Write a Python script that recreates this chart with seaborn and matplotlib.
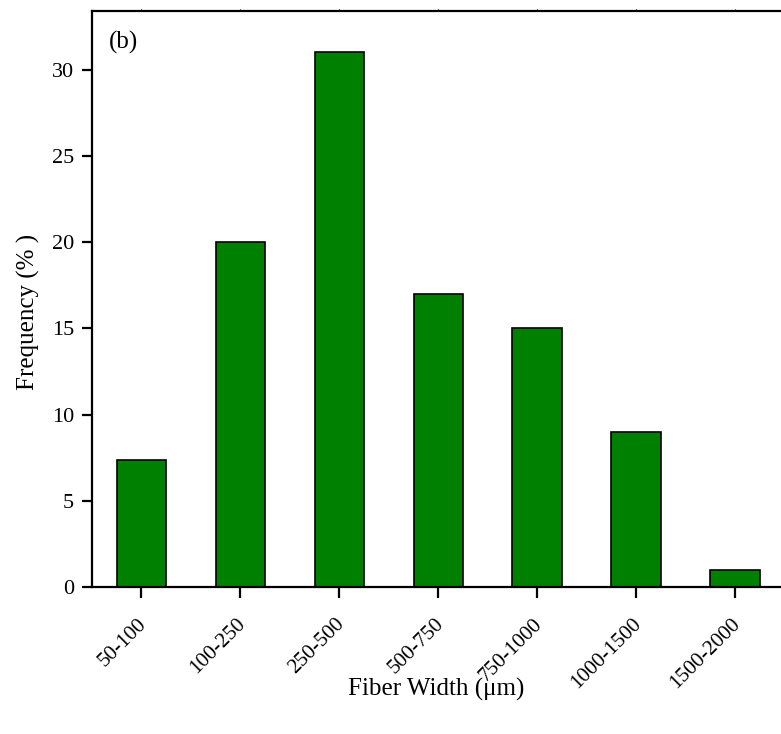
import matplotlib
matplotlib.use("Agg")
import matplotlib.pyplot as plt
import seaborn as sns
import pandas as pd

# Fiber width distribution
width_bins = ["50-100", "100-250", "250-500", "500-750", "750-1000", "1000-1500", "1500-2000"]
frequency = [7.35, 20.0, 31.0, 17.0, 15.0, 9.0, 1.0]
y_ticks = [0, 5, 10, 15, 20, 25, 30]

df = pd.DataFrame({"bin": width_bins, "freq": frequency})

sns.set_style("white")
plt.rcParams["font.family"] = ["Liberation Serif", "DejaVu Serif"]
plt.rcParams["text.color"] = "black"
plt.rcParams["axes.labelcolor"] = "black"
plt.rcParams["xtick.color"] = "black"
plt.rcParams["ytick.color"] = "black"

fig = plt.figure(figsize=(7.81, 7.34), dpi=100)
ax = fig.add_axes([0.1178, 0.2003, 0.8842, 0.7847])

sns.barplot(data=df, x="bin", y="freq", color="#008000", saturation=1,
            width=0.5, edgecolor="black", linewidth=1.2, ax=ax)

ax.set_xlim(-0.5, 6.48)
ax.set_ylim(0, 33.4)
ax.set_yticks(y_ticks)
ax.set_yticklabels([str(t) for t in y_ticks], fontsize=16, color="black")
ax.set_xticks(range(len(width_bins)))

# rotated category labels, anchored just below each tick
ax.tick_params(axis="x", labelbottom=False)
xform = ax.get_xaxis_transform()
for i, name in enumerate(width_bins):
    ax.annotate(name, xy=(i, 0), xycoords=xform, xytext=(-3, -20),
                textcoords="offset points", rotation=45, ha="right", va="top",
                rotation_mode="anchor", fontsize=15.2, color="black",
                annotation_clip=False)

for side in ["left", "bottom", "top"]:
    ax.spines[side].set_visible(True)
    ax.spines[side].set_linewidth(1.6)
    ax.spines[side].set_color("black")
ax.spines["right"].set_visible(False)

ax.tick_params(axis="both", which="major", direction="out", width=1.6, color="black")
ax.tick_params(axis="x", length=8, top=True, bottom=True)
ax.tick_params(axis="y", length=7, pad=6, left=True)
for t in ax.xaxis.get_major_ticks():
    t.tick2line.set_color("#aaaaaa")
    t.tick2line.set_markersize(1.5)
    t.tick2line.set_markeredgewidth(0.8)

ax.set_xlabel("Fiber Width (\u03bcm)", fontsize=18, color="black")
ax.set_ylabel("Frequency (% )", fontsize=18, color="black")
ax.xaxis.set_label_coords(0.499, -0.158)
ax.yaxis.set_label_coords(-0.076, 0.477)

ax.text(0.024, 0.945, "(b)", transform=ax.transAxes, fontsize=18,
        va="center", ha="left", color="black")

fig.savefig("out.png", dpi=100)
